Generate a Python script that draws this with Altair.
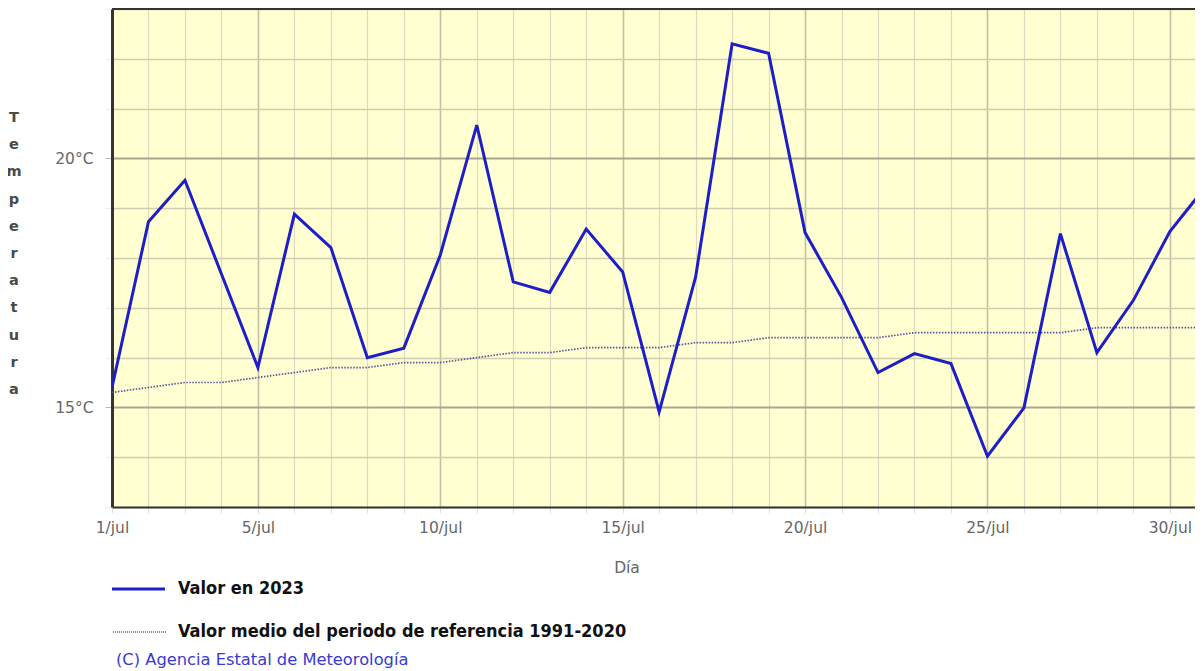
import altair as alt
import pandas as pd

# ---- data ----
days = list(range(1, 32))
valor_2023 = [15.40, 18.73, 19.56, 17.68, 15.80, 18.88, 18.21, 16.00, 16.19, 18.06,
              20.67, 17.52, 17.31, 18.58, 17.72, 14.91, 17.62, 22.30, 22.11, 18.51,
              17.21, 15.70, 16.08, 15.88, 14.02, 14.99, 18.49, 16.10, 17.15, 18.53,
              19.45]
valor_ref = [15.3, 15.4, 15.5, 15.5, 15.6, 15.7, 15.8, 15.8, 15.9, 15.9,
             16.0, 16.1, 16.1, 16.2, 16.2, 16.2, 16.3, 16.3, 16.4, 16.4,
             16.4, 16.4, 16.5, 16.5, 16.5, 16.5, 16.5, 16.6, 16.6, 16.6,
             16.6]
x_tick_values = list(range(1, 31))
y_tick_values = list(range(13, 24))
legend_labels = ["Valor en 2023", "Valor medio del periodo de referencia 1991-2020"]
copyright_text = "(C) Agencia Estatal de Meteorología"
y_title = "Temperatura"
x_title = "Día"

df = pd.DataFrame({"dia": days, "v2023": valor_2023, "vref": valor_ref})

W, H = 1083, 498
LABEL_FONT = "DejaVu Sans"
LABEL_COLOR = "#666666"

x_scale = alt.Scale(domain=[1, 30.69], nice=False, zero=False)
y_scale = alt.Scale(domain=[13, 23], nice=False, zero=False)

x_axis = alt.Axis(
    values=x_tick_values,
    labelExpr="(datum.value === 1 || datum.value % 5 === 0) ? datum.value + '/jul' : ''",
    title=None,
    grid=True,
    gridColor={"condition": {"test": "datum.value % 5 === 0", "value": "#c4c0a4"}, "value": "#dedac0"},
    gridWidth={"condition": {"test": "datum.value % 5 === 0", "value": 1.6}, "value": 1.2},
    domainColor="#333333",
    domainWidth=2,
    ticks=True,
    tickSize=6,
    tickColor="#dddddd",
    labelFont=LABEL_FONT,
    labelFontSize=15.5,
    labelColor=LABEL_COLOR,
    labelPadding=7,
    labelFlush=False,
    labelOverlap=False,
    labelBound=False,
)

y_axis = alt.Axis(
    values=y_tick_values,
    labelExpr="datum.value % 5 === 0 ? datum.value + '°C' : ''",
    title=None,
    grid=True,
    gridColor={"condition": {"test": "datum.value % 5 === 0", "value": "#aaa68e"}, "value": "#d0ccb0"},
    gridWidth={"condition": {"test": "datum.value % 5 === 0", "value": 2.2}, "value": 1.4},
    domainColor="#333333",
    domainWidth=3,
    ticks=True,
    tickSize=7,
    tickColor={"condition": {"test": "datum.value % 5 === 0", "value": "#bbbbbb"}, "value": "#eeeeee"},
    labelFont=LABEL_FONT,
    labelFontSize=15.5,
    labelColor=LABEL_COLOR,
    labelPadding=12,
    labelOverlap=False,
    labelBound=False,
)

x_enc = alt.X("dia:Q", scale=x_scale, axis=x_axis)

base = alt.Chart(df)

line_ref = base.mark_line(color="#55559f", strokeWidth=1.7, strokeDash=[1.5, 1.5], clip=True).encode(
    x=x_enc,
    y=alt.Y("vref:Q", scale=y_scale, axis=y_axis),
)

line_2023 = base.mark_line(color="#1e1ec8", strokeWidth=3, clip=True).encode(
    x=x_enc,
    y=alt.Y("v2023:Q", scale=y_scale, axis=y_axis),
)

one = pd.DataFrame({"k": [0]})

top_border = alt.Chart(one).mark_rule(color="#333333", strokeWidth=2).encode(
    x=alt.value(0), x2=alt.value(W + 5), y=alt.value(0)
)

# legend
leg1_line = alt.Chart(one).mark_rule(color="#1e1ec8", strokeWidth=3).encode(
    x=alt.value(0), x2=alt.value(53), y=alt.value(580)
)
leg2_line = alt.Chart(one).mark_rule(color="#5a5ab8", strokeWidth=1.5, strokeDash=[1, 1]).encode(
    x=alt.value(1), x2=alt.value(54), y=alt.value(623)
)
LEG_FONT = "DejaVu Sans Condensed"
leg1_text = alt.Chart(pd.DataFrame({"t": [legend_labels[0]]})).mark_text(
    align="left", baseline="middle", font=LEG_FONT, fontWeight="bold",
    fontSize=18, color="#111111"
).encode(text="t:N", x=alt.value(66), y=alt.value(580))
leg2_text = alt.Chart(pd.DataFrame({"t": [legend_labels[1]]})).mark_text(
    align="left", baseline="middle", font=LEG_FONT, fontWeight="bold",
    fontSize=18, color="#111111"
).encode(text="t:N", x=alt.value(66), y=alt.value(623))
copy_text = alt.Chart(pd.DataFrame({"t": [copyright_text]})).mark_text(
    align="left", baseline="middle", font="DejaVu Sans",
    fontSize=16.3, color="#3a3ad0"
).encode(text="t:N", x=alt.value(4), y=alt.value(651))

x_title_text = alt.Chart(pd.DataFrame({"t": [x_title]})).mark_text(
    align="center", baseline="middle", font=LABEL_FONT, fontSize=15.5, color=LABEL_COLOR
).encode(text="t:N", x=alt.value(515), y=alt.value(559))

y_title_text = alt.Chart(pd.DataFrame({"t": ["\n".join(list(y_title))]})).mark_text(
    align="center", baseline="top", font="DejaVu Sans", fontWeight="bold", fontSize=14.5,
    color="#4a4a4a", lineBreak="\n", lineHeight=27.2
).encode(text="t:N", x=alt.value(-98), y=alt.value(102))

chart = alt.layer(
    line_ref, line_2023, top_border,
    leg1_line, leg2_line, leg1_text, leg2_text, copy_text,
    x_title_text, y_title_text,
).properties(
    width=W, height=H,
    autosize=alt.AutoSizeParams(type="none"),
    padding={"left": 104, "top": 1, "right": 0, "bottom": 163},
    background="white",
).configure_view(
    fill="#ffffd2", stroke=None
)

chart.save("out.html", embed_options={"renderer": "svg", "actions": False})
